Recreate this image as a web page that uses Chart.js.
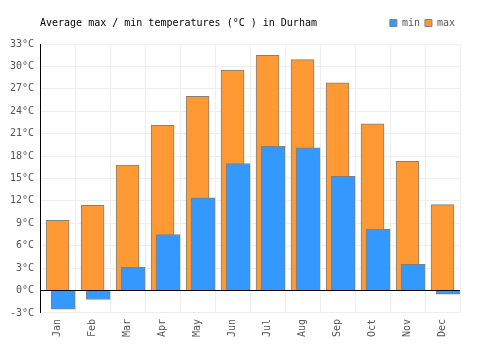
<!DOCTYPE html>
<html>
<head>
<meta charset="utf-8">
<script src="https://cdn.jsdelivr.net/npm/chart.js@4"></script>
<style>
  html, body { margin: 0; padding: 0; background: #fff; }
  #wrap { position: relative; width: 500px; height: 350px; }
  #title { position: absolute; left: 40px; top: 17px; font: 10px "DejaVu Sans Mono", monospace; color: #000; white-space: pre; }
</style>
</head>
<body>
<div id="wrap">
  <canvas id="tempChart" width="500" height="350"></canvas>
  <div id="title">Average max / min temperatures (°C ) in Durham</div>
</div>
<script>
const months = ['Jan', 'Feb', 'Mar', 'Apr', 'May', 'Jun', 'Jul', 'Aug', 'Sep', 'Oct', 'Nov', 'Dec'];
const minTemps = [-2.5, -1.2, 3.1, 7.5, 12.4, 17.0, 19.3, 19.1, 15.3, 8.2, 3.5, -0.5];
const maxTemps = [9.4, 11.4, 16.8, 22.1, 26.0, 29.5, 31.5, 30.9, 27.8, 22.3, 17.3, 11.5];
const yTicks = { min: -3, max: 33, step: 3 };

document.addEventListener('DOMContentLoaded', function() {
  const mono = { family: '"DejaVu Sans Mono", monospace', size: 10 };
  // min bars sit a little to the right of the max bars
  const shift = 0.16;

  // extra room under the legend
  const legendGap = {
    id: 'legendGap',
    beforeInit(chart) {
      const fit = chart.legend.fit;
      chart.legend.fit = function() {
        fit.bind(chart.legend)();
        this.height += 6;
      };
    }
  };

  new Chart(document.getElementById('tempChart'), {
    type: 'bar',
    data: {
      labels: months,
      datasets: [{
        label: 'min',
        data: minTemps.map((v, i) => ({ x: i, y: v })),
        xAxisID: 'x2',
        backgroundColor: '#3399ff',
        borderColor: '#808080',
        borderWidth: 1,
        barThickness: 24,
        grouped: false
      }, {
        label: 'max',
        data: maxTemps,
        xAxisID: 'x',
        backgroundColor: '#ff9933',
        borderColor: '#808080',
        borderWidth: 1,
        barThickness: 23,
        grouped: false
      }]
    },
    options: {
      responsive: false,
      animation: false,
      layout: { padding: { left: 4, right: 40, top: 13, bottom: 7 } },
      plugins: {
        title: { display: false },
        tooltip: { enabled: false },
        legend: {
          position: 'top',
          align: 'end',
          labels: {
            font: mono,
            color: '#555',
            boxWidth: 7,
            boxHeight: 7,
            padding: 5
          }
        }
      },
      scales: {
        x: {
          type: 'category',
          offset: true,
          grid: { color: '#eeeeee', offset: true, drawTicks: false },
          border: { color: '#eeeeee' },
          ticks: { font: mono, color: '#555', minRotation: 90, maxRotation: 90, padding: 6 }
        },
        x2: {
          type: 'linear',
          display: false,
          offset: false,
          min: -0.5 - shift,
          max: 11.5 - shift
        },
        y: {
          min: yTicks.min,
          max: yTicks.max,
          grid: {
            color: ctx => ctx.tick && ctx.tick.value === 0 ? '#000' : '#eeeeee',
            drawTicks: false
          },
          border: { color: '#000' },
          ticks: {
            stepSize: yTicks.step,
            font: mono,
            color: '#555',
            padding: 6,
            callback: v => v + '°C'
          }
        }
      }
    },
    plugins: [legendGap]
  });
});
</script>
</body>
</html>
